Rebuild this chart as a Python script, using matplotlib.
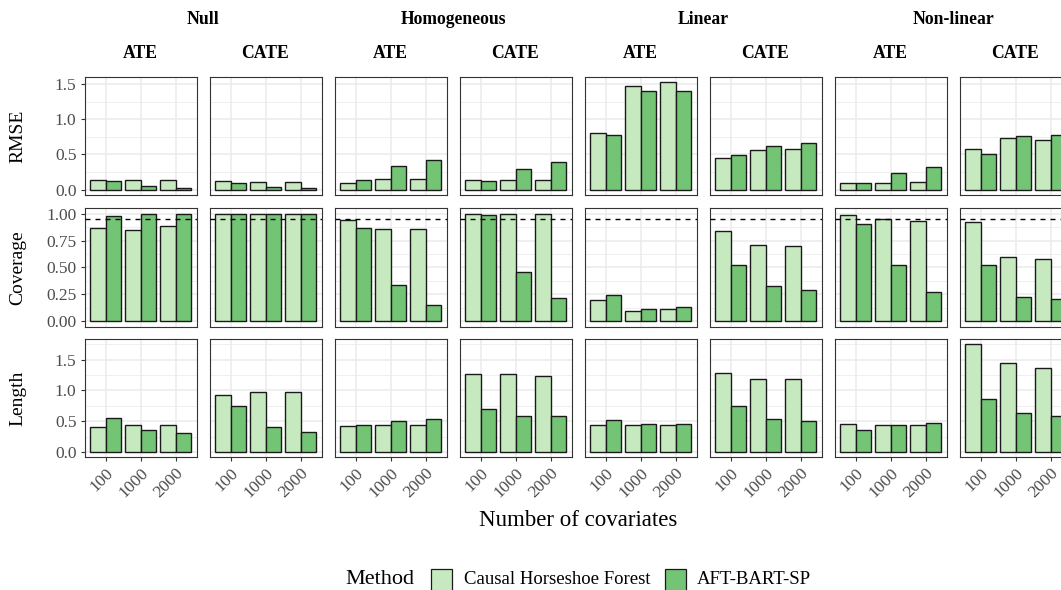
import matplotlib
matplotlib.use('Agg')
import matplotlib.pyplot as plt
import matplotlib.patches as patches
import numpy as np

plt.rcParams['font.family'] = ['Liberation Serif', 'DejaVu Serif']

# ---- data ----
sizes = ['100', '1000', '2000']
scenarios = ['Null', 'Homogeneous', 'Linear', 'Non-linear']
estimands = ['ATE', 'CATE']
methods = ['Causal Horseshoe Forest', 'AFT-BART-SP']
metrics = ['RMSE', 'Coverage', 'Length']

# one row per panel: Null ATE, Null CATE, Hom ATE, Hom CATE, Lin ATE, Lin CATE, NL ATE, NL CATE
rmse_chf = [[0.13, 0.14, 0.13], [0.12, 0.11, 0.11], [0.10, 0.15, 0.15], [0.13, 0.13, 0.13],
            [0.80, 1.48, 1.53], [0.45, 0.57, 0.58], [0.09, 0.10, 0.11], [0.58, 0.73, 0.70]]
rmse_aft = [[0.12, 0.05, 0.03], [0.09, 0.04, 0.02], [0.14, 0.33, 0.42], [0.12, 0.30, 0.39],
            [0.78, 1.41, 1.41], [0.49, 0.62, 0.66], [0.09, 0.24, 0.32], [0.50, 0.76, 0.77]]

cov_chf = [[0.864, 0.848, 0.882], [1.0, 1.0, 1.0], [0.938, 0.861, 0.854], [1.0, 1.0, 1.0],
           [0.201, 0.093, 0.115], [0.842, 0.709, 0.700], [0.988, 0.950, 0.935], [0.920, 0.601, 0.576]]
cov_aft = [[0.975, 1.0, 1.0], [0.998, 1.0, 1.0], [0.870, 0.337, 0.152], [0.988, 0.455, 0.217],
           [0.248, 0.118, 0.133], [0.523, 0.328, 0.288], [0.901, 0.523, 0.276], [0.526, 0.229, 0.211]]

len_chf = [[0.41, 0.43, 0.43], [0.93, 0.975, 0.97], [0.42, 0.445, 0.445], [1.27, 1.27, 1.24],
           [0.434, 0.434, 0.44], [1.28, 1.19, 1.19], [0.455, 0.44, 0.434], [1.75, 1.44, 1.36]]
len_aft = [[0.56, 0.36, 0.30], [0.74, 0.40, 0.33], [0.43, 0.50, 0.535], [0.70, 0.58, 0.59],
           [0.52, 0.46, 0.45], [0.745, 0.53, 0.51], [0.35, 0.44, 0.466], [0.857, 0.627, 0.58]]

nominal = 0.95

# ---- styling ----
colors = ['#C7E9C0', '#74C476']
edge = '#1A1A1A'
grid_c = '#EBEBEB'
border_c = '#333333'
tick_c = '#4D4D4D'

W, H = 1061, 590
fig = plt.figure(figsize=(W / 100, H / 100), dpi=100)

def frac(left, top, w, h):
    return [left / W, 1 - (top + h) / H, w / W, h / H]

col_left0, col_step, col_w = 84.5, 125.0, 112.0
row_tops = [76.7, 208.3, 339.0]
row_h = 118.3

data = [(rmse_chf, rmse_aft), (cov_chf, cov_aft), (len_chf, len_aft)]
majors = [[0, 0.5, 1.0, 1.5], [0, 0.25, 0.5, 0.75, 1.0], [0, 0.5, 1.0, 1.5]]
fmts = ['{:.1f}', '{:.2f}', '{:.1f}']

x = np.arange(1, len(sizes) + 1)
bw = 0.45

for r, metric in enumerate(metrics):
    chf, aft = data[r]
    ymax = max(max(max(v) for v in chf), max(max(v) for v in aft))
    ylim = (-0.05 * ymax, 1.05 * ymax)
    maj = majors[r]
    step = maj[1] - maj[0]
    mins = [m + step / 2 for m in maj if m + step / 2 < ylim[1]]
    for c in range(8):
        ax = fig.add_axes(frac(col_left0 + c * col_step, row_tops[r], col_w, row_h))
        ax.bar(x - bw / 2, chf[c], width=bw, color=colors[0], edgecolor=edge, linewidth=1.0, zorder=3)
        ax.bar(x + bw / 2, aft[c], width=bw, color=colors[1], edgecolor=edge, linewidth=1.0, zorder=3)
        if metric == 'Coverage':
            ax.axhline(nominal, color='black', linestyle=(0, (3.6, 3.6)), linewidth=1.0, zorder=4)
        ax.set_xlim(0.4, 3.6)
        ax.set_ylim(*ylim)
        ax.set_xticks(x)
        ax.set_yticks(maj)
        ax.set_yticks(mins, minor=True)
        ax.set_axisbelow(True)
        ax.grid(which='major', color=grid_c, linewidth=1.1)
        ax.grid(which='minor', axis='y', color=grid_c, linewidth=0.55)
        ax.tick_params(which='minor', length=0)
        ax.tick_params(which='major', color=border_c, length=2.75, width=0.8,
                       labelcolor=tick_c, labelsize=12.5, pad=3.0)
        for s in ax.spines.values():
            s.set_color(border_c)
            s.set_linewidth(0.8)
        if c == 0:
            ax.set_yticklabels([fmts[r].format(v) for v in maj])
        else:
            ax.tick_params(axis='y', length=0, labelleft=False)
        if r == 2:
            ax.set_xticklabels(sizes, rotation=45, ha='right', va='top', rotation_mode='anchor')
        else:
            ax.tick_params(axis='x', length=0, labelbottom=False)

# row labels
for r, metric in enumerate(metrics):
    fig.text(18 / W, 1 - (row_tops[r] + row_h / 2) / H, metric, rotation=90,
             ha='center', va='center', fontsize=14, color='black')

# strip labels
for s, scen in enumerate(scenarios):
    l = col_left0 + 2 * s * col_step
    rgt = l + col_step + col_w
    fig.text((l + rgt) / 2 / W, 1 - 19 / H, scen, ha='center', va='center',
             fontsize=12.7, fontweight='bold')
    for e, est in enumerate(estimands):
        cx = col_left0 + (2 * s + e) * col_step + col_w / 2
        fig.text(cx / W, 1 - 54 / H, est, ha='center', va='center',
                 fontsize=12.7, fontweight='bold')

# x axis title
fig.text((col_left0 + (7 * col_step + col_w) / 2) / W, 1 - 521 / H, 'Number of covariates',
         ha='center', va='center', fontsize=16.5)

# legend (cut off at the bottom edge like the reference)
fig.text(345 / W, 1 - 579 / H, 'Method', ha='left', va='center', fontsize=16)
box_x = [430.5, 664.5]
lab_x = [464, 697]
for i, m in enumerate(methods):
    fig.patches.append(patches.Rectangle((box_x[i] / W, 1 - (569 + 24) / H), 21 / W, 24 / H,
                                         transform=fig.transFigure, facecolor=colors[i],
                                         edgecolor=edge, linewidth=0.9))
    fig.text(lab_x[i] / W, 1 - 579 / H, m, ha='left', va='center', fontsize=13.5)

fig.savefig('out.png', dpi=100)
